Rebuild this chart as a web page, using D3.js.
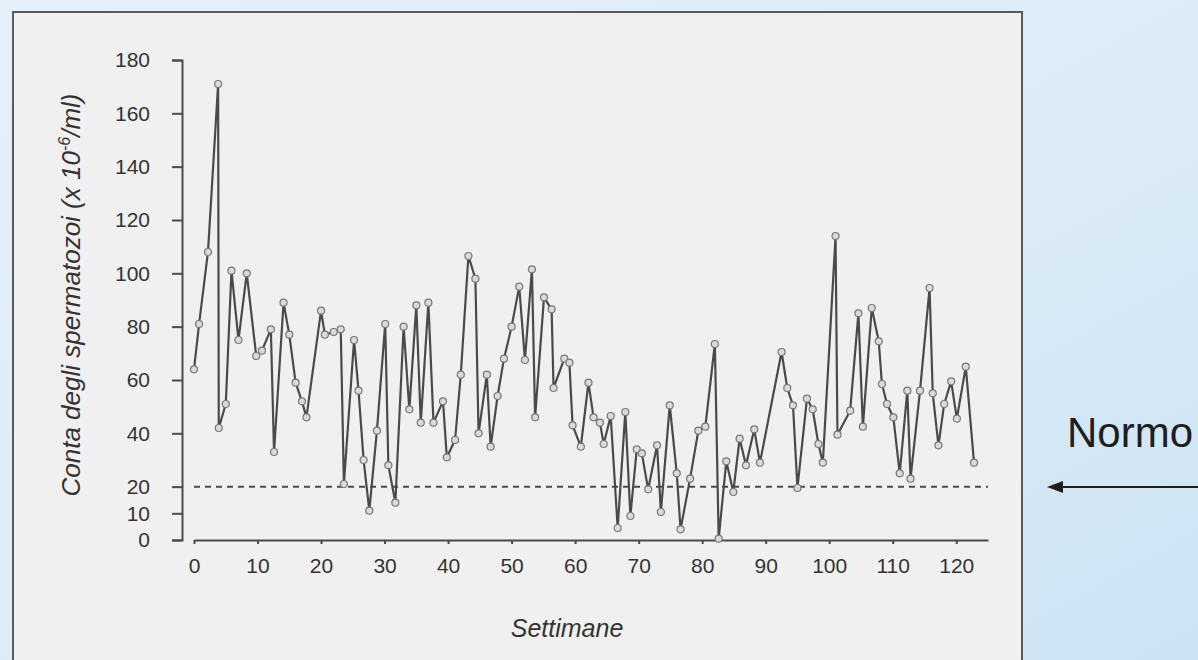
<!DOCTYPE html>
<html>
<head>
<meta charset="utf-8">
<script src="https://cdn.jsdelivr.net/npm/d3@7/dist/d3.min.js"></script>
<style>
  html, body { margin: 0; padding: 0; overflow: hidden; }
  svg { display: block; font-family: "Liberation Sans", Arial, Helvetica, sans-serif; }
  .axis text { fill: #333; font-size: 21px; }
  .axis path, .axis line { stroke: #4a4a4a; stroke-width: 2; }
</style>
</head>
<body>
<svg id="chart" width="1198" height="660"></svg>
<script>
// weeks of each sample (x) and count in millions/ml (y)
const weeks = [
  0, 0.8, 2.2, 3.8, 3.9, 5.0, 5.9, 7.0, 8.3, 9.8, 10.7, 12.1, 12.6, 14.1, 15.0, 16.0, 17.0, 17.7,
  20.0, 20.6, 22.0, 23.1, 23.6, 25.2, 25.9, 26.7, 27.6, 28.8, 30.1, 30.6, 31.7, 33.0, 33.9, 35.0,
  35.7, 36.9, 37.7, 39.2, 39.8, 41.1, 42.0, 43.2, 44.3, 44.8, 46.1, 46.7, 47.8, 48.8, 50.0, 51.2,
  52.1, 53.2, 53.7, 55.1, 56.3, 56.6, 58.3, 59.1, 59.6, 60.9, 62.1, 62.9, 63.9, 64.5, 65.6, 66.7,
  67.9, 68.7, 69.7, 70.5, 71.5, 72.9, 73.5, 74.9, 76.0, 76.6, 78.1, 79.4, 80.5, 82.0, 82.6, 83.8,
  84.9, 85.9, 86.9, 88.2, 89.1, 92.5, 93.4, 94.3, 95.0, 96.5, 97.4, 98.3, 99.0, 101.0, 101.3, 103.3,
  104.6, 105.3, 106.7, 107.8, 108.3, 109.1, 110.1, 111.1, 112.3, 112.8, 114.3, 115.8, 116.3, 117.2,
  118.1, 119.2, 120.1, 121.5, 122.8
];
const counts = [
  64, 81, 108, 171, 42, 51, 101, 75, 100, 69, 71, 79, 33, 89, 77, 59, 52, 46,
  86, 77, 78, 79, 21, 75, 56, 30, 11, 41, 81, 28, 14, 80, 49, 88,
  44, 89, 44, 52, 31, 37.5, 62, 106.5, 98, 40, 62, 35, 54, 68, 80, 95,
  67.5, 101.5, 46, 91, 86.5, 57, 68, 66.5, 43, 35, 59, 46, 44, 36, 46.5, 4.5,
  48, 9, 34, 32.5, 19, 35.5, 10.5, 50.5, 25, 4, 23, 41, 42.5, 73.5, 0.5, 29.5,
  18, 38, 28, 41.5, 29, 70.5, 57, 50.5, 19.5, 53, 49, 36, 29, 114, 39.5, 48.5,
  85, 42.5, 87, 74.5, 58.5, 51, 46, 25, 56, 23, 56, 94.5, 55, 35.5,
  51, 59.5, 45.5, 65, 29
];
const xTicks = [0, 10, 20, 30, 40, 50, 60, 70, 80, 90, 100, 110, 120];
const yTicks = [0, 10, 20, 40, 60, 80, 100, 120, 140, 160, 180];
const threshold = 20;

const xTitle = 'Settimane';
const yTitle = 'Conta degli spermatozoi (x 10';
const yTitleSup = '-6';
const yTitleEnd = '/ml)';
const sideLabel = 'Normo';

const data = weeks.map((w, i) => ({ week: w, count: counts[i] }));

const svg = d3.select('#chart');
const W = 1198, H = 660;

// slide background
const defs = svg.append('defs');
const bg = defs.append('linearGradient')
  .attr('id', 'bg').attr('x1', '0').attr('y1', '0').attr('x2', '1').attr('y2', '1');
bg.append('stop').attr('offset', '0%').attr('stop-color', '#e4f0fa');
bg.append('stop').attr('offset', '55%').attr('stop-color', '#dcebf7');
bg.append('stop').attr('offset', '100%').attr('stop-color', '#cce3f4');

svg.append('rect').attr('width', W).attr('height', H).attr('fill', 'url(#bg)');

// scanned figure panel
svg.append('rect')
  .attr('x', 13).attr('y', 12)
  .attr('width', 1009).attr('height', H)
  .attr('fill', '#f0f0f0')
  .attr('stroke', '#5a5a5a')
  .attr('stroke-width', 2);

const x = d3.scaleLinear().domain([0, 125]).range([194, 988]);
const y = d3.scaleLinear().domain([0, 180]).range([540, 60]);

// axes
svg.append('g')
  .attr('class', 'axis axis--x')
  .attr('transform', 'translate(0,540)')
  .call(d3.axisBottom(x).tickValues(xTicks).tickSize(4).tickSizeOuter(0).tickPadding(14));

svg.append('g')
  .attr('class', 'axis axis--y')
  .attr('transform', 'translate(182,0)')
  .call(d3.axisLeft(y).tickValues(yTicks).tickSize(10).tickPadding(22));

// 20 million/ml limit
svg.append('line')
  .attr('x1', x(0)).attr('x2', x(125))
  .attr('y1', y(threshold)).attr('y2', y(threshold))
  .attr('stroke', '#4a4a4a')
  .attr('stroke-width', 2)
  .attr('stroke-dasharray', '6,5');

// series
const line = d3.line()
  .x(d => x(d.week))
  .y(d => y(d.count));

svg.append('path')
  .datum(data)
  .attr('fill', 'none')
  .attr('stroke', '#4a4a4a')
  .attr('stroke-width', 2.2)
  .attr('stroke-linejoin', 'round')
  .attr('d', line);

svg.append('g')
  .selectAll('circle')
  .data(data)
  .join('circle')
  .attr('cx', d => x(d.week))
  .attr('cy', d => y(d.count))
  .attr('r', 3.5)
  .attr('fill', '#dadada')
  .attr('stroke', '#777')
  .attr('stroke-width', 1.2);

// axis titles
svg.append('text')
  .attr('x', 567).attr('y', 637)
  .attr('text-anchor', 'middle')
  .attr('font-style', 'italic')
  .attr('font-size', 25)
  .attr('fill', '#333')
  .text(xTitle);

const yt = svg.append('text')
  .attr('transform', 'translate(80,295) rotate(-90)')
  .attr('text-anchor', 'middle')
  .attr('font-style', 'italic')
  .attr('font-size', 26)
  .attr('fill', '#333');
yt.append('tspan').text(yTitle);
yt.append('tspan').attr('dy', -10).attr('font-size', 16).text(yTitleSup);
yt.append('tspan').attr('dy', 10).text(yTitleEnd);

// slide annotation
svg.append('text')
  .attr('x', 1067).attr('y', 447)
  .attr('font-size', 42)
  .attr('fill', '#1e1e1e')
  .text(sideLabel);

svg.append('line')
  .attr('x1', 1060).attr('x2', W)
  .attr('y1', 487).attr('y2', 487)
  .attr('stroke', '#1e1e1e')
  .attr('stroke-width', 2);

svg.append('path')
  .attr('d', d3.line()([[1047, 487], [1063, 481], [1063, 493]]) + 'Z')
  .attr('fill', '#1e1e1e');
</script>
</body>
</html>
